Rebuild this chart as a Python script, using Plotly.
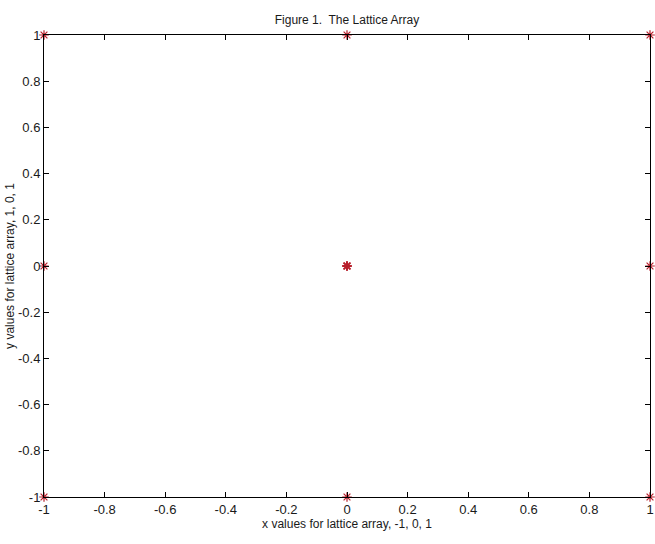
import plotly.graph_objects as go

x_vals = [-1, -1, -1, 0, 0, 0, 1, 1, 1]
y_vals = [-1, 0, 1, -1, 0, 1, -1, 0, 1]
center_x = [0]
center_y = [0]

tick_vals = [-1, -0.8, -0.6, -0.4, -0.2, 0, 0.2, 0.4, 0.6, 0.8, 1]
tick_text = ["-1", "-0.8", "-0.6", "-0.4", "-0.2", "0", "0.2", "0.4", "0.6", "0.8", "1"]

red = "#b8202c"
fig = go.Figure()
fig.add_trace(go.Scatter(x=x_vals, y=y_vals, mode="markers", cliponaxis=False,
                         marker=dict(symbol="asterisk-open", size=8, color=red,
                                     line=dict(color=red, width=1.2)),
                         showlegend=False))
fig.add_trace(go.Scatter(x=center_x, y=center_y, mode="markers", cliponaxis=False,
                         marker=dict(symbol="asterisk-open", size=8, color=red,
                                     line=dict(color=red, width=2)),
                         showlegend=False))

font = dict(family="Liberation Sans, Arial, sans-serif", size=13, color="#1a1a1a")
small = dict(family=font["family"], size=12, color="#1a1a1a")
axis_common = dict(ticks="inside", ticklen=5, tickcolor="black", showline=True,
                   linecolor="black", linewidth=1, mirror="ticks", showgrid=False,
                   zeroline=False, tickvals=tick_vals, ticktext=tick_text,
                   tickfont=font, ticklabeloverflow="allow")
fig.update_layout(
    width=655, height=544,
    margin=dict(l=44, r=1, t=35, b=47),
    paper_bgcolor="white", plot_bgcolor="white",
    font=font,
    title=dict(text="Figure 1.  The Lattice Array", x=0.5, xanchor="center",
               xref="paper", yref="paper", y=1, yanchor="bottom",
               pad=dict(b=11), font=small),
    xaxis=dict(range=[-1, 1], title=dict(text="x values for lattice array, -1, 0, 1",
                                         standoff=2, font=small),
               **axis_common),
    yaxis=dict(range=[-1, 1], title=dict(text="y values for lattice array, 1, 0, 1",
                                         standoff=0, font=small),
               **axis_common),
)
fig.write_html("out.html", config={"displayModeBar": False},
               post_script="document.body.style.margin='0';document.body.style.padding='0';")
